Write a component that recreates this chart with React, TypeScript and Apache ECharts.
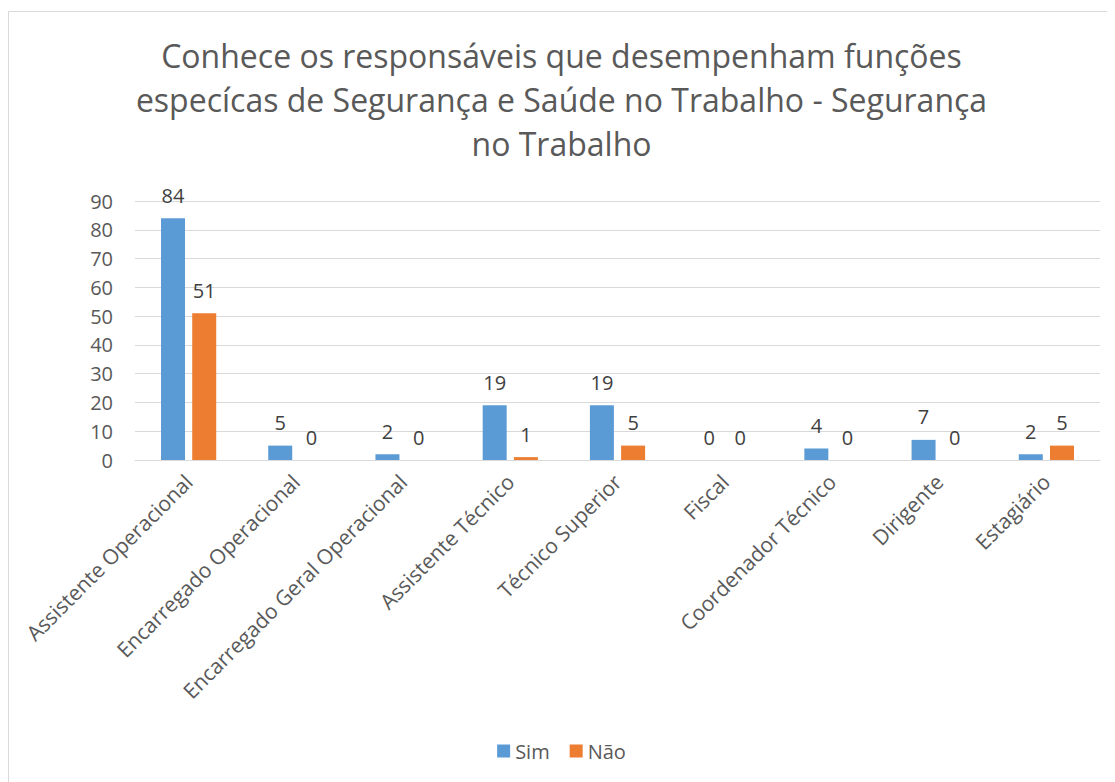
import React, { useEffect, useRef } from "react";
import * as echarts from "echarts";

const categories = [
  "Assistente Operacional",
  "Encarregado Operacional",
  "Encarregado Geral Operacional",
  "Assistente Técnico",
  "Técnico Superior",
  "Fiscal",
  "Coordenador Técnico",
  "Dirigente",
  "Estagiário",
];
const simValues = [84, 5, 2, 19, 19, 0, 4, 7, 2];
const naoValues = [51, 0, 0, 1, 5, 0, 0, 0, 5];
const titleText =
  "Conhece os responsáveis que desempenham funções\nespecícas de Segurança e Saúde no Trabalho - Segurança\nno Trabalho";

const FONT = "'Open Sans', 'Noto Sans', sans-serif";

export default function App() {
  const ref = useRef<HTMLDivElement>(null);
  useEffect(() => {
    if (!ref.current) return;
    const chart = echarts.init(ref.current, null, { renderer: "svg" });
    chart.setOption({
      animation: false,
      backgroundColor: "#ffffff",
      textStyle: { fontFamily: FONT },
      title: {
        text: titleText,
        left: "center",
        top: 20,
        textStyle: {
          fontFamily: FONT,
          fontSize: 32,
          fontWeight: "normal",
          color: "#595959",
          lineHeight: 44,
        },
      },
      graphic: [
        {
          type: "rect",
          shape: { x: 0.5, y: 3.5, width: 1200, height: 900 },
          style: { fill: "none", stroke: "#d9d9d9", lineWidth: 1 },
          silent: true,
        },
      ],
      legend: {
        bottom: 16,
        left: "center",
        itemWidth: 13,
        itemHeight: 13,
        itemGap: 20,
        itemStyle: { borderWidth: 0 },
        icon: "rect",
        textStyle: { fontFamily: FONT, fontSize: 20, color: "#595959" },
        data: ["Sim", "Não"],
      },
      grid: { left: 127, right: 15, top: 193, bottom: 322 },
      xAxis: {
        type: "category",
        data: categories,
        axisLine: { show: true, lineStyle: { color: "#d9d9d9" } },
        axisTick: { show: false },
        axisLabel: {
          rotate: 45,
          interval: 0,
          fontFamily: FONT,
          fontSize: 21,
          color: "#595959",
          margin: 18,
        },
      },
      yAxis: {
        type: "value",
        min: 0,
        max: 90,
        interval: 10,
        axisLine: { show: false },
        axisTick: { show: false },
        splitLine: { lineStyle: { color: "#d9d9d9" } },
        axisLabel: {
          fontFamily: FONT,
          fontSize: 20,
          color: "#595959",
          margin: 22,
        },
      },
      series: [
        {
          name: "Sim",
          type: "bar",
          data: simValues,
          barWidth: 24,
          barGap: "30%",
          itemStyle: { color: "#5b9bd5" },
          label: {
            show: true,
            position: "top",
            distance: 13,
            fontFamily: FONT,
            fontSize: 20,
            color: "#404040",
          },
        },
        {
          name: "Não",
          type: "bar",
          data: naoValues,
          barWidth: 24,
          itemStyle: { color: "#ed7d31" },
          label: {
            show: true,
            position: "top",
            distance: 13,
            fontFamily: FONT,
            fontSize: 20,
            color: "#404040",
          },
        },
      ],
    });
    return () => chart.dispose();
  }, []);
  return <div ref={ref} style={{ width: 1107, height: 774 }} />;
}
